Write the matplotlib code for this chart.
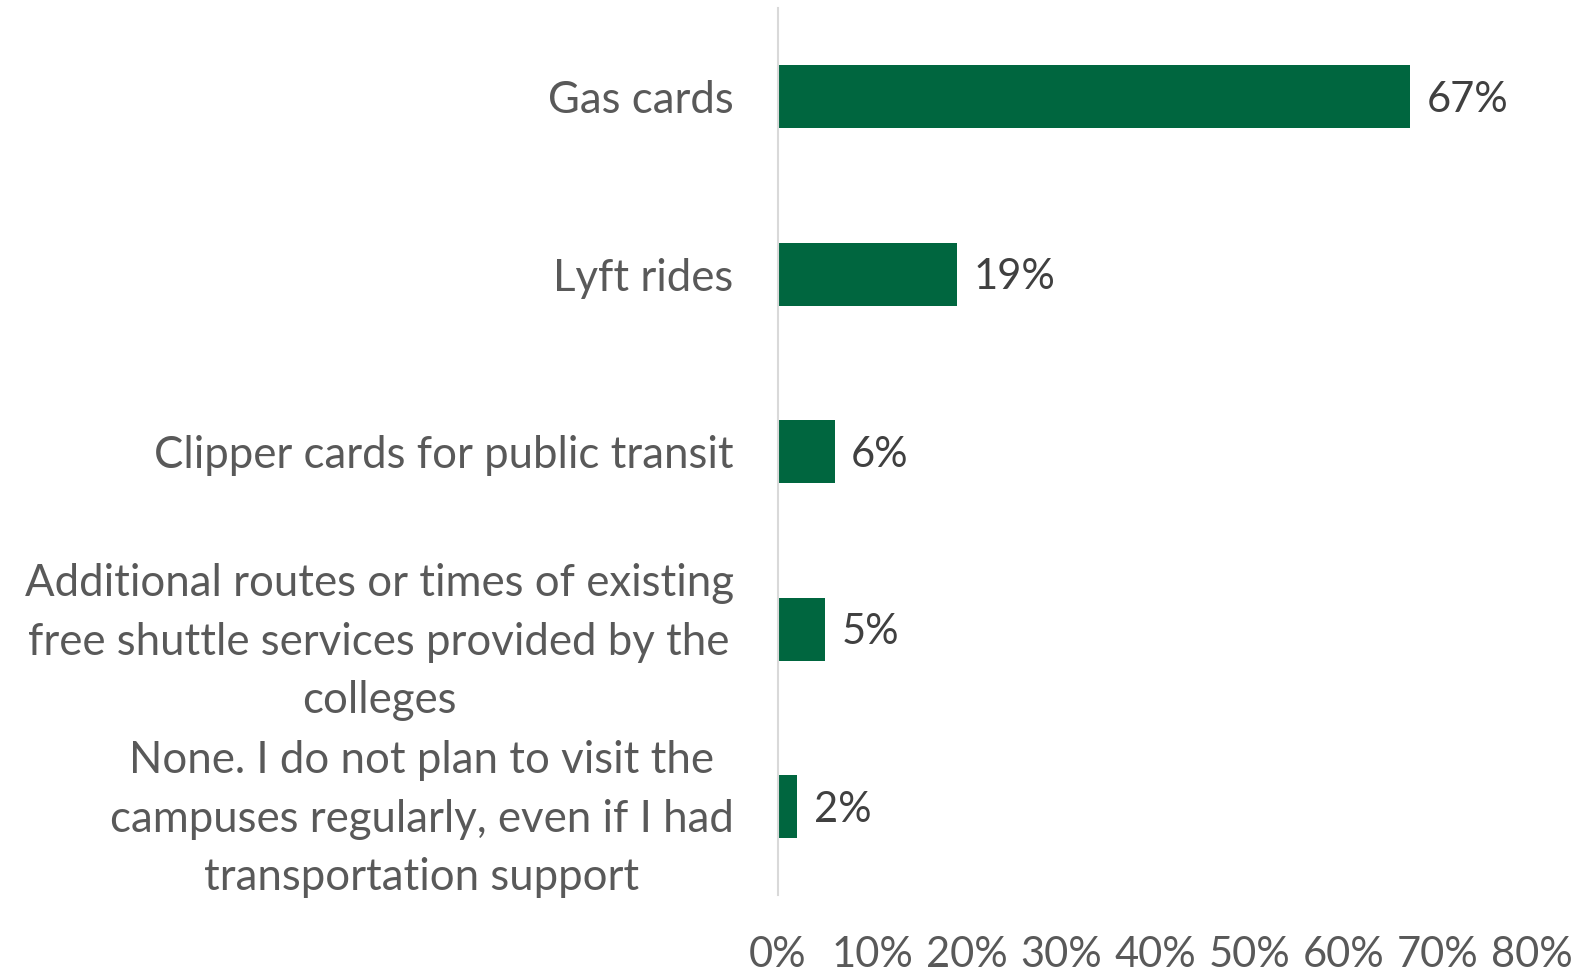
import matplotlib.pyplot as plt
from matplotlib.ticker import FuncFormatter

categories = [
    "Gas cards",
    "Lyft rides",
    "Clipper cards for public transit",
    "Additional routes or times of existing\nfree shuttle services provided by the\ncolleges",
    "None. I do not plan to visit the\ncampuses regularly, even if I had\ntransportation support",
]
values = [67, 19, 6, 5, 2]
ticks = [0, 10, 20, 30, 40, 50, 60, 70, 80]

plt.rcParams['font.family'] = ['Lato', 'DejaVu Sans']
green = "#00663F"
grey = "#595959"

fig = plt.figure(figsize=(15.91, 9.76), dpi=100)
ax = fig.add_axes([0.489, 0.0825, 0.474, 0.9092])

y = range(len(categories))
ax.barh(y, values, height=0.354, color=green)
ax.set_ylim(len(categories) - 0.5, -0.5)
ax.set_xlim(0, 80)

for yi, v in zip(y, values):
    ax.annotate(f"{v}%", (v, yi), xytext=(12, -2), textcoords="offset points",
                va="center", ha="left", fontsize=30, color="#404040")

ax.set_yticks(list(y))
ax.set_yticklabels(categories, fontsize=31.5, color=grey, multialignment="center",
                   linespacing=1.53)
ax.set_xticks(ticks)
ax.xaxis.set_major_formatter(FuncFormatter(lambda v, p: f"{v:.0f}%"))
ax.tick_params(axis="x", length=0, pad=29, labelsize=30, labelcolor=grey)
ax.tick_params(axis="y", length=0, pad=32)

for s in ["top", "right", "bottom"]:
    ax.spines[s].set_visible(False)
ax.spines["left"].set_color("#D9D9D9")
ax.spines["left"].set_linewidth(1.5)

fig.savefig("out.png", dpi=100)
